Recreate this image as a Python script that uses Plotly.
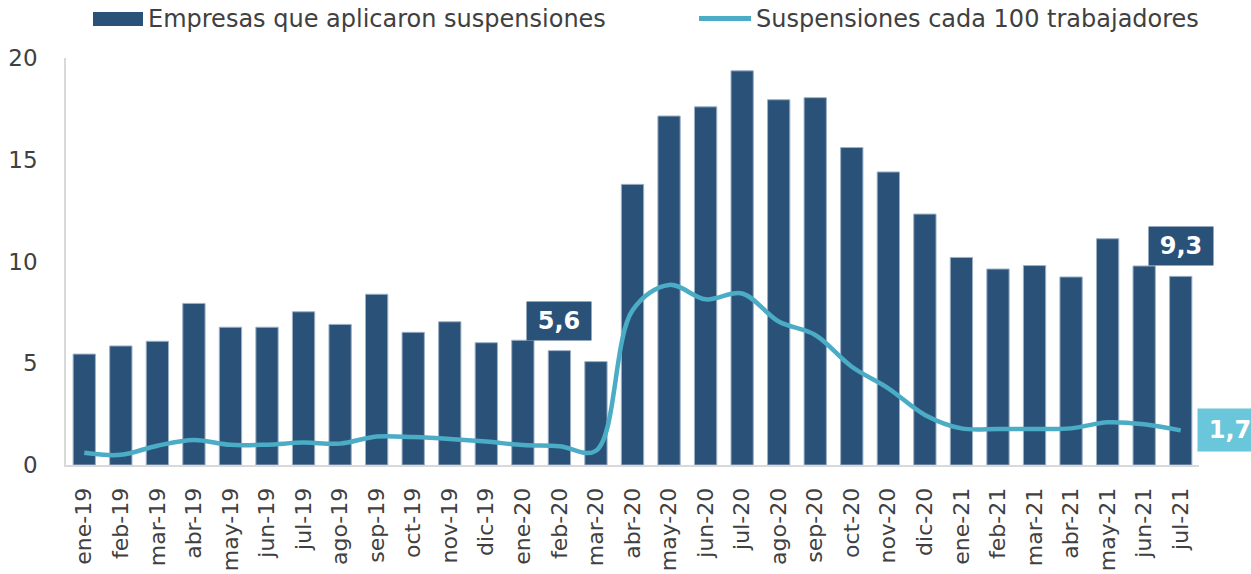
import plotly.graph_objects as go

meses = ["ene-19", "feb-19", "mar-19", "abr-19", "may-19", "jun-19", "jul-19", "ago-19",
         "sep-19", "oct-19", "nov-19", "dic-19", "ene-20", "feb-20", "mar-20", "abr-20",
         "may-20", "jun-20", "jul-20", "ago-20", "sep-20", "oct-20", "nov-20", "dic-20",
         "ene-21", "feb-21", "mar-21", "abr-21", "may-21", "jun-21", "jul-21"]

empresas = [5.45, 5.85, 6.08, 7.94, 6.77, 6.77, 7.53, 6.91, 8.39, 6.52, 7.04, 6.01,
            6.13, 5.62, 5.08, 13.79, 17.15, 17.6, 19.37, 17.95, 18.05, 15.6, 14.4, 12.33,
            10.2, 9.63, 9.8, 9.24, 11.12, 9.78, 9.27]

suspensiones = [0.6, 0.5, 0.95, 1.23, 0.99, 1.0, 1.1, 1.05, 1.4, 1.37, 1.28, 1.15,
                0.98, 0.92, 0.7, 7.6, 8.85, 8.14, 8.43, 7.05, 6.39, 4.83, 3.77, 2.46,
                1.8, 1.77, 1.77, 1.8, 2.1, 2.0, 1.7]

etiquetas_barras = {"feb-20": "5,6", "jul-21": "9,3"}
etiqueta_linea = "1,7"

NAVY = "#2A5278"
AQUA = "#4BACC6"
AQUA_LABEL = "#6AC6DA"
GRIS = "#404040"
FONT = "DejaVu Sans"

W, H = 1251, 574
ML, MR, MT, MB = 66, 52, 58, 109


def px(x):
    return (x - ML) / (W - ML - MR)


def py(y):
    return (H - MB - y) / (H - MT - MB)


fig = go.Figure()

fig.add_trace(go.Bar(
    x=meses, y=empresas,
    name="Empresas que aplicaron suspensiones",
    marker=dict(color=NAVY, line=dict(color="#9DB0C6", width=1)),
    showlegend=False,
))

fig.add_trace(go.Scatter(
    x=meses, y=suspensiones,
    name="Suspensiones cada 100 trabajadores",
    mode="lines",
    line=dict(color=AQUA, width=4.5, shape="spline", smoothing=1),
    showlegend=False,
))

# labels on bars
for mes, txt in etiquetas_barras.items():
    fig.add_annotation(
        x=mes, y=empresas[meses.index(mes)],
        text="<b>" + txt + "</b>",
        showarrow=False, yanchor="bottom", yshift=10,
        font=dict(family=FONT, size=24, color="white"),
        bgcolor=NAVY, width=54, height=28, borderpad=5,
    )

fig.add_annotation(
    x=meses[-1], y=suspensiones[-1],
    text="<b>" + etiqueta_linea + "</b>",
    showarrow=False, xanchor="left", xshift=16,
    font=dict(family=FONT, size=24, color="white"),
    bgcolor=AQUA_LABEL, width=54, height=32, borderpad=5,
)

# legend drawn by hand
fig.add_shape(type="rect", xref="paper", yref="paper",
              x0=px(93), x1=px(143), y0=py(26), y1=py(12),
              fillcolor=NAVY, line=dict(width=0))
fig.add_shape(type="line", xref="paper", yref="paper",
              x0=px(699), x1=px(751), y0=py(18.5), y1=py(18.5),
              line=dict(color=AQUA, width=5))
fig.add_annotation(xref="paper", yref="paper", x=px(146), y=py(19),
                   text="Empresas que aplicaron suspensiones", showarrow=False,
                   xanchor="left", yanchor="middle",
                   font=dict(family=FONT, size=24, color=GRIS))
fig.add_annotation(xref="paper", yref="paper", x=px(754), y=py(19),
                   text="Suspensiones cada 100 trabajadores", showarrow=False,
                   xanchor="left", yanchor="middle",
                   font=dict(family=FONT, size=24, color=GRIS))

fig.update_layout(
    width=W, height=H,
    margin=dict(l=ML, r=MR, t=MT, b=MB, autoexpand=False),
    plot_bgcolor="white", paper_bgcolor="white",
    bargap=0.39,
    font=dict(family=FONT, size=20, color=GRIS),
)
fig.update_xaxes(
    type="category", range=[-0.5, len(meses) - 0.5], showgrid=False,
    tickangle=-90, showline=True, linecolor="#D9D9D9", linewidth=2,
    ticks="", ticklabelstandoff=12,
    tickfont=dict(family=FONT, size=22, color=GRIS),
)
fig.update_yaxes(
    range=[0, 20], tickvals=[0, 5, 10, 15, 20], showgrid=False, zeroline=False,
    showline=True, linecolor="#D9D9D9", linewidth=1.5,
    ticks="", ticklabelstandoff=22,
    tickfont=dict(family=FONT, size=23, color=GRIS),
)

fig.write_html("out.html", config={"displayModeBar": False},
               post_script="document.body.style.margin='0';")
